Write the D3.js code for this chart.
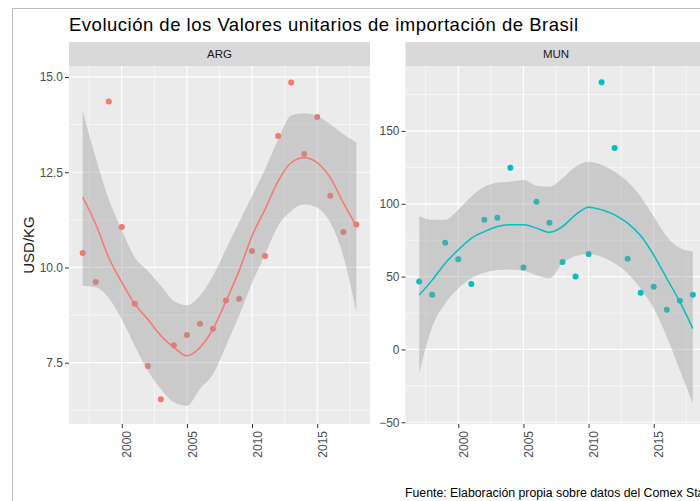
<!DOCTYPE html>
<html>
<head>
<meta charset="utf-8">
<script src="https://cdn.jsdelivr.net/npm/d3@7"></script>
<style>
  body { margin: 0; background: #fff; }
  svg { font-family: "Liberation Sans", Arial, sans-serif; }
</style>
</head>
<body>
<script>
var years = [1997, 1998, 1999, 2000, 2001, 2002, 2003, 2004, 2005, 2006, 2007,
             2008, 2009, 2010, 2011, 2012, 2013, 2014, 2015, 2016, 2017, 2018];

// ARG
var argValues = [10.38, 9.62, 14.36, 11.06, 9.05, 7.41, 6.54, 7.96, 8.23, 8.52, 8.39,
                 9.13, 9.18, 10.43, 10.30, 13.45, 14.86, 12.98, 13.95, 11.88, 10.93, 11.13];
var argFit   = [11.84, 11.14, 10.26, 9.61, 9.04, 8.64, 8.21, 7.90, 7.68, 7.90, 8.38,
                9.12, 9.91, 10.83, 11.53, 12.27, 12.75, 12.88, 12.75, 12.36, 11.70, 11.09];
var argLower = [9.52, 9.48, 9.20, 8.64, 7.94, 7.29, 6.81, 6.46, 6.37, 6.81, 7.20,
                7.94, 8.73, 9.60, 10.35, 11.09, 11.48, 11.66, 11.57, 11.18, 10.30, 8.82];
var argUpper = [14.11, 12.88, 11.79, 10.99, 10.26, 9.91, 9.52, 9.12, 9.01, 9.26, 9.78,
                10.48, 11.18, 11.88, 12.58, 13.36, 13.99, 14.05, 13.98, 13.76, 13.50, 13.28];

// MUN
var munValues = [46.6, 37.5, 73.2, 62.0, 45.0, 89.0, 90.4, 124.7, 56.3, 101.4, 87.0,
                 60.0, 50.0, 65.6, 183.4, 138.3, 62.2, 38.9, 43.0, 27.2, 33.4, 37.5];
var munFit   = [37.3, 47.6, 59.2, 68.3, 76.3, 80.9, 84.4, 85.6, 85.6, 83.3, 80.4,
                84.4, 92.4, 97.7, 95.9, 92.4, 86.7, 78.0, 64.8, 48.8, 32.8, 14.4];
var munLower = [-16.5, 15.5, 31.6, 41.9, 48.8, 52.6, 54.5, 54.9, 54.0, 51.0, 48.8,
                59.1, 64.1, 65.5, 63.7, 59.1, 52.2, 41.9, 28.2, 8.7, -14.2, -37.1];
var munUpper = [91.6, 88.9, 89.0, 95.9, 105.0, 111.7, 114.5, 115.2, 116.3, 112.4, 111.7,
                117.5, 125.5, 128.9, 126.6, 122.0, 115.2, 104.9, 91.2, 77.5, 69.6, 67.3];

var xTicks = [2000, 2005, 2010, 2015];
var argTicks = [7.5, 10.0, 12.5, 15.0];
var munTicks = [-50, 0, 50, 100, 150];

var w = 700, h = 501;
var pTop = 66, pBottom = 424;

var svg = d3.select("body").append("svg").attr("width", w).attr("height", h);

svg.append("rect").attr("x", 12.5).attr("y", 8.5).attr("width", 720).attr("height", 520)
  .attr("fill", "#fff").attr("stroke", "#bdbdbd").attr("stroke-width", 1);

svg.append("text").attr("x", 69).attr("y", 31)
  .attr("font-size", "18.5px").attr("fill", "#000")
  .attr("textLength", 509).attr("lengthAdjust", "spacing")
  .text("Evolución de los Valores unitarios de importación de Brasil");

svg.append("text")
  .attr("transform", "translate(34," + ((pTop + pBottom) / 2) + ") rotate(-90)")
  .attr("text-anchor", "middle").attr("font-size", "15px").attr("fill", "#1a1a1a")
  .text("USD/KG");

svg.append("text").attr("x", 405).attr("y", 497)
  .attr("font-size", "12.3px").attr("fill", "#000")
  .text("Fuente: Elaboración propia sobre datos del Comex Stat");

function panel(left, right, name, yDomain, yTicks, yMinor, fmt, vals, fit, lo, hi, color) {
  var x = d3.scaleLinear().domain([1995.95, 2019.05]).range([left, right]);
  var y = d3.scaleLinear().domain(yDomain).range([pBottom, pTop]);
  var g = svg.append("g");

  g.append("rect").attr("x", left).attr("y", pTop).attr("width", right - left)
    .attr("height", pBottom - pTop).attr("fill", "#ebebeb");

  // strip
  g.append("rect").attr("x", left).attr("y", 42).attr("width", right - left)
    .attr("height", pTop - 42).attr("fill", "#d9d9d9");
  g.append("text").attr("x", (left + right) / 2).attr("y", 58)
    .attr("text-anchor", "middle").attr("font-size", "11.5px").attr("fill", "#1a1a1a")
    .text(name);

  // grid
  var xMinor = [1997.5, 2002.5, 2007.5, 2012.5, 2017.5];
  g.selectAll(".xminor").data(xMinor).enter().append("line")
    .attr("x1", d => x(d)).attr("x2", d => x(d)).attr("y1", pTop).attr("y2", pBottom)
    .attr("stroke", "#fff").attr("stroke-width", 0.6);
  g.selectAll(".yminor").data(yMinor).enter().append("line")
    .attr("y1", d => y(d)).attr("y2", d => y(d)).attr("x1", left).attr("x2", right)
    .attr("stroke", "#fff").attr("stroke-width", 0.6);
  g.selectAll(".xmajor").data(xTicks).enter().append("line")
    .attr("x1", d => x(d)).attr("x2", d => x(d)).attr("y1", pTop).attr("y2", pBottom)
    .attr("stroke", "#fff").attr("stroke-width", 1.2);
  g.selectAll(".ymajor").data(yTicks).enter().append("line")
    .attr("y1", d => y(d)).attr("y2", d => y(d)).attr("x1", left).attr("x2", right)
    .attr("stroke", "#fff").attr("stroke-width", 1.2);

  // axes
  var yAxis = d3.axisLeft(y).tickValues(yTicks).tickFormat(fmt).tickSize(4).tickPadding(2);
  var ya = g.append("g").attr("transform", "translate(" + left + ",0)").call(yAxis);
  var xAxis = d3.axisBottom(x).tickValues(xTicks).tickFormat(d3.format("d")).tickSize(4).tickPadding(2);
  var xa = g.append("g").attr("transform", "translate(0," + pBottom + ")").call(xAxis);
  [ya, xa].forEach(function(a) {
    a.select(".domain").remove();
    a.selectAll(".tick line").attr("stroke", "#333");
    a.selectAll(".tick text").attr("fill", "#4d4d4d").attr("font-size", "12px")
      .attr("font-family", "Liberation Sans, Arial, sans-serif");
  });
  xa.selectAll(".tick text")
    .attr("transform", "rotate(-90)").attr("text-anchor", "end")
    .attr("x", -7).attr("y", 5).attr("dy", "0.35em");

  var clip = "clip" + name;
  svg.append("clipPath").attr("id", clip).append("rect")
    .attr("x", left).attr("y", pTop).attr("width", right - left).attr("height", pBottom - pTop);
  var plot = g.append("g").attr("clip-path", "url(#" + clip + ")");

  plot.selectAll("circle").data(years).enter().append("circle")
    .attr("cx", d => x(d)).attr("cy", (d, i) => y(vals[i])).attr("r", 3)
    .attr("fill", color);

  var area = d3.area().curve(d3.curveMonotoneX)
    .x(d => x(d)).y0((d, i) => y(lo[i])).y1((d, i) => y(hi[i]));
  plot.append("path").datum(years).attr("d", area)
    .attr("fill", "#999").attr("fill-opacity", 0.4);

  var line = d3.line().curve(d3.curveMonotoneX).x(d => x(d)).y((d, i) => y(fit[i]));
  plot.append("path").datum(years).attr("d", line)
    .attr("fill", "none").attr("stroke", color).attr("stroke-width", 1.5);
}

panel(69, 370, "ARG", [5.89, 15.29], argTicks, [6.25, 8.75, 11.25, 13.75], d3.format(".1f"),
      argValues, argFit, argLower, argUpper, "#F8766D");
panel(405.5, 706.5, "MUN", [-51.2, 194.6], munTicks, [-25, 25, 75, 125, 175], d3.format("d"),
      munValues, munFit, munLower, munUpper, "#00BFC4");
</script>
</body>
</html>
